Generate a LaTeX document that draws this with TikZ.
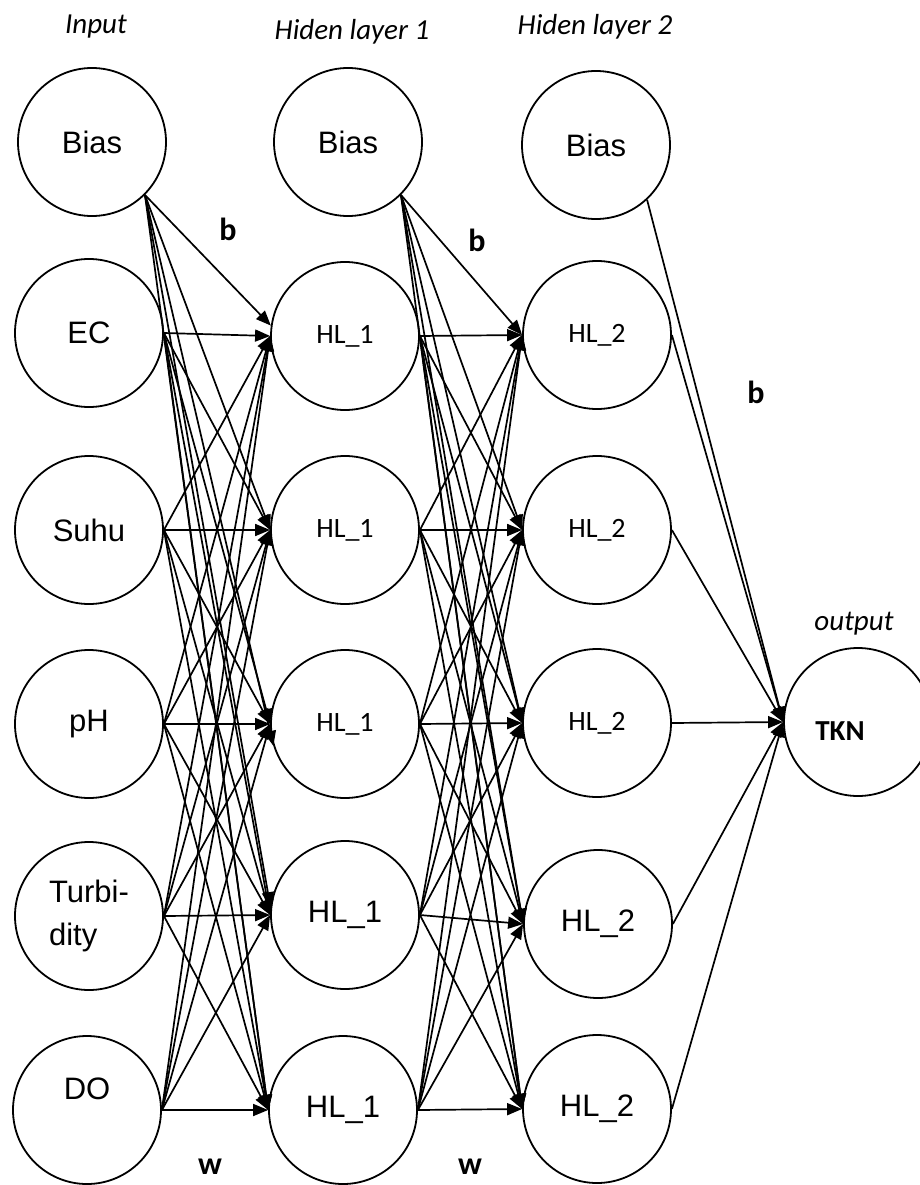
\documentclass[tikz,border=0pt]{standalone}
\usepackage{fontspec}
\setmainfont{Liberation Sans}
\newfontfamily\calf{Carlito}
\usetikzlibrary{arrows.meta}
\begin{document}
\begin{tikzpicture}[x=1pt,y=-1pt,
  neuron/.style={circle,draw,line width=1.8pt,minimum size=148pt,inner sep=0pt},
  big/.style={font=\fontsize{31}{36}\selectfont},
  small/.style={font=\calf\fontsize{28}{32}\selectfont},
  edge/.style={line width=1.7pt,-{Triangle[length=15pt,width=12pt]}},
  ttl/.style={font=\calf\itshape\fontsize{29}{32}\selectfont,anchor=base,inner sep=0pt},
  wlab/.style={font=\calf\bfseries\fontsize{32}{34}\selectfont,anchor=base,inner sep=0pt}]
\useasboundingbox (0,0) rectangle (920,1185);

% input layer
\node[neuron,big] (ib) at (92,142) {Bias};
\node[neuron,big] (iec) at (89,333) {EC};
\node[neuron,big] (isuhu) at (89,530) {Suhu};
\node[neuron,align=left,font=\fontsize{31}{43}\selectfont] (iturb) at (89,916) {Turbi-\\dity};
\node[neuron,big] (iph) at (89,724) {pH};
\node[neuron,big] (ido) at (87,1110) {\raisebox{11pt}[0pt][0pt]{\makebox[0pt]{DO}}};

% hidden layer 1
\node[neuron,big] (hb) at (348,142) {Bias};
\node[neuron,small] (h1) at (345,336) {HL\_1};
\node[neuron,small] (h2) at (345,530) {HL\_1};
\node[neuron,small] (h3) at (345,724) {HL\_1};
\node[neuron,big] (h4) at (345,915) {HL\_1};
\node[neuron,big] (h5) at (343,1110) {HL\_1};

% hidden layer 2
\node[neuron,big] (gb) at (596,145) {Bias};
\node[neuron,small] (g1) at (597,335) {HL\_2};
\node[neuron,small] (g2) at (597,530) {HL\_2};
\node[neuron,small] (g3) at (597,723) {HL\_2};
\node[neuron,big] (g4) at (598,924) {HL\_2};
\node[neuron,big] (g5) at (597,1109) {HL\_2};

% output
\node[neuron,font=\calf\bfseries\fontsize{29}{32}\selectfont] (out) at (858,722)
  {\makebox[0pt][c]{\hspace*{-36pt}\raisebox{-18pt}[0pt][0pt]{TKN}}};

% titles and labels
\node[ttl] (tin) at (96,34) {Input};
\node[ttl] (th1) at (352,40) {Hiden layer 1};
\node[ttl] (th2) at (595,35) {Hiden layer 2};
\node[ttl] (tout) at (854,630) {output};
\node[wlab] (b1) at (228,240) {b};
\node[wlab] (b2) at (477,251) {b};
\node[wlab] (b3) at (756,403) {b};
\node[wlab] (w1) at (210,1174) {w};
\node[wlab] (w2) at (470,1174) {w};

% input -> hidden 1
\foreach \t/\a in {h1/172,h2/180,h3/197,h4/174,h5/180}
  \draw[edge] (ib.-45) -- (\t.\a);
\foreach \s in {iec,isuhu,iph,iturb,ido}
  \foreach \t in {h1,h2,h3,h4,h5}
    \draw[edge] (\s.east) -- (\t.west);

% hidden 1 -> hidden 2
\foreach \t in {g1,g2,g3,g4,g5}
  \draw[edge] (hb.-45) -- (\t.west);
\foreach \s in {h1,h2,h3,h4,h5}
  \foreach \t in {g1,g2,g3,g4,g5}
    \draw[edge] (\s.east) -- (\t.west);

% hidden 2 -> output
\draw[edge] (gb.-47) -- (out.west);
\foreach \s in {g1,g2,g3,g4,g5}
  \draw[edge] (\s.east) -- (out.west);
\end{tikzpicture}
\end{document}
